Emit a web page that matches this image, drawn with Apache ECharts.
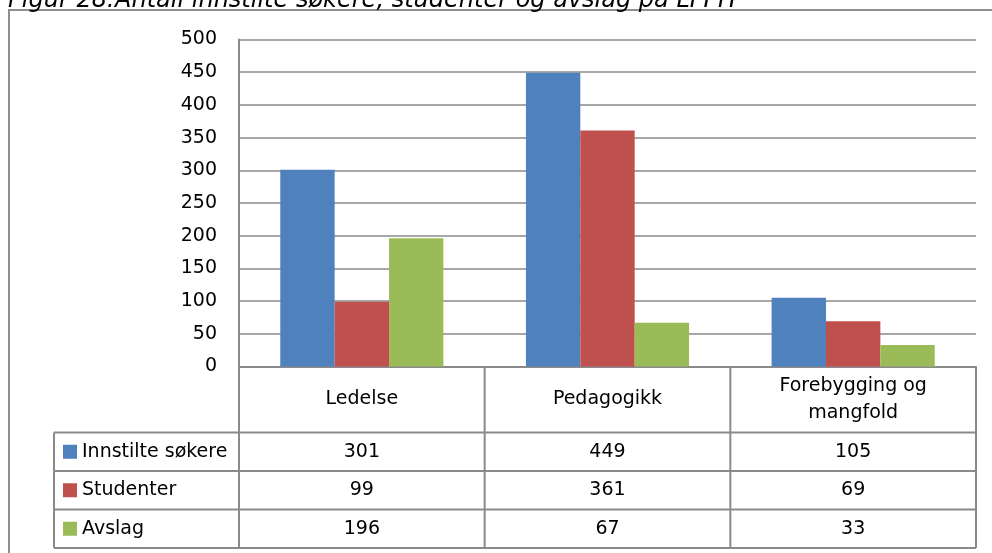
<!DOCTYPE html>
<html>
<head>
<meta charset="utf-8">
<script src="https://cdn.jsdelivr.net/npm/echarts@6/dist/echarts.min.js"></script>
<style>
  html, body { margin: 0; padding: 0; background: #fff; }
  #chart { width: 992px; height: 553px; }
</style>
</head>
<body>
<div id="chart"></div>
<script>
// Programmes and counts
const categories = ['Ledelse', 'Pedagogikk', 'Forebygging og\nmangfold'];
const seriesNames = ['Innstilte søkere', 'Studenter', 'Avslag'];
const innstilte = [301, 449, 105];
const studenter = [99, 361, 69];
const avslag = [196, 67, 33];
const seriesValues = [innstilte, studenter, avslag];
const seriesColors = ['#4F81BD', '#C0504D', '#9BBB59'];
const yMin = 0, yMax = 500, yStep = 50;
const titleText = 'Figur 28:Antall innstilte søkere, studenter og avslag på LFPH';

const FONT = '"DejaVu Sans", "Open Sans", sans-serif';
const FS = 19;
const LINE = '#8a8a8a';

const chart = echarts.init(document.getElementById('chart'), null, { renderer: 'canvas' });

const option = {
  animation: false,
  backgroundColor: '#fff',
  grid: { left: 239, right: 16, top: 39.5, bottom: 186.5, containLabel: false },
  xAxis: {
    type: 'category',
    data: categories,
    axisLine: { show: true, lineStyle: { color: LINE, width: 2 } },
    axisTick: { show: false },
    axisLabel: {
      show: true, interval: 0, margin: 33, verticalAlign: 'middle',
      color: '#000', fontFamily: FONT, fontSize: FS, lineHeight: 27
    },
    splitLine: { show: false }
  },
  yAxis: {
    type: 'value',
    min: yMin, max: yMax, interval: yStep,
    axisLine: { show: true, lineStyle: { color: LINE, width: 2 } },
    axisTick: { show: false },
    axisLabel: { color: '#000', fontFamily: FONT, fontSize: FS, margin: 22 },
    splitLine: { show: true, lineStyle: { color: LINE, width: 1.5 } }
  },
  series: seriesNames.map((name, i) => ({
    name: name,
    type: 'bar',
    data: seriesValues[i],
    barGap: '0%',
    barCategoryGap: '33.6%',
    itemStyle: { color: seriesColors[i] }
  }))
};
chart.setOption(option);

// Data table under the plot, laid out from the category axis and value axis
function buildTable() {
  const centers = categories.map((_, i) => chart.convertToPixel({ xAxisIndex: 0 }, i));
  const band = centers[1] - centers[0];
  const xs = centers.map(c => c - band / 2);
  xs.push(centers[centers.length - 1] + band / 2);
  const y0 = chart.convertToPixel({ yAxisIndex: 0 }, yMin);
  const headerH = 66;
  const rowH = 38.5;
  const legendLeft = 54;
  const rowTops = seriesNames.map((_, i) => y0 + headerH + i * rowH);
  const tableBottom = y0 + headerH + seriesNames.length * rowH;
  const els = [];

  // outer frame
  els.push({ type: 'rect', shape: { x: 9, y: 10, width: 1100, height: 700 },
    style: { fill: null, stroke: '#8f8f8f', lineWidth: 2 }, z: 1 });

  // title
  els.push({ type: 'text', x: 8, y: 13, style: {
    text: titleText, fill: '#000', font: 'italic 24px ' + FONT,
    textAlign: 'left', align: 'left', textVerticalAlign: 'bottom', verticalAlign: 'bottom' }, z: 10 });

  // vertical cell borders
  xs.forEach(x => {
    els.push({ type: 'line', shape: { x1: x, y1: y0, x2: x, y2: tableBottom },
      style: { stroke: LINE, lineWidth: 2 }, z: 5 });
  });
  els.push({ type: 'line', shape: { x1: legendLeft, y1: rowTops[0], x2: legendLeft, y2: tableBottom },
    style: { stroke: LINE, lineWidth: 2 }, z: 5 });

  // horizontal row borders
  rowTops.concat([tableBottom]).forEach(y => {
    els.push({ type: 'line', shape: { x1: legendLeft, y1: y, x2: xs[xs.length - 1], y2: y },
      style: { stroke: LINE, lineWidth: 2 }, z: 5 });
  });

  // row keys and values
  seriesNames.forEach((name, r) => {
    const cy = rowTops[r] + rowH / 2;
    els.push({ type: 'rect', shape: { x: 63, y: cy - 7, width: 14, height: 14 },
      style: { fill: seriesColors[r] }, z: 6 });
    els.push({ type: 'text', x: 82, y: cy, style: {
      text: name, fill: '#000', font: FS + 'px ' + FONT,
      textAlign: 'left', align: 'left', textVerticalAlign: 'middle', verticalAlign: 'middle' }, z: 6 });
    seriesValues[r].forEach((v, c) => {
      els.push({ type: 'text', x: centers[c], y: cy, style: {
        text: String(v), fill: '#000', font: FS + 'px ' + FONT,
        textAlign: 'center', align: 'center', textVerticalAlign: 'middle', verticalAlign: 'middle' }, z: 6 });
    });
  });

  chart.setOption({ graphic: { elements: els } });
}
buildTable();
</script>
</body>
</html>
